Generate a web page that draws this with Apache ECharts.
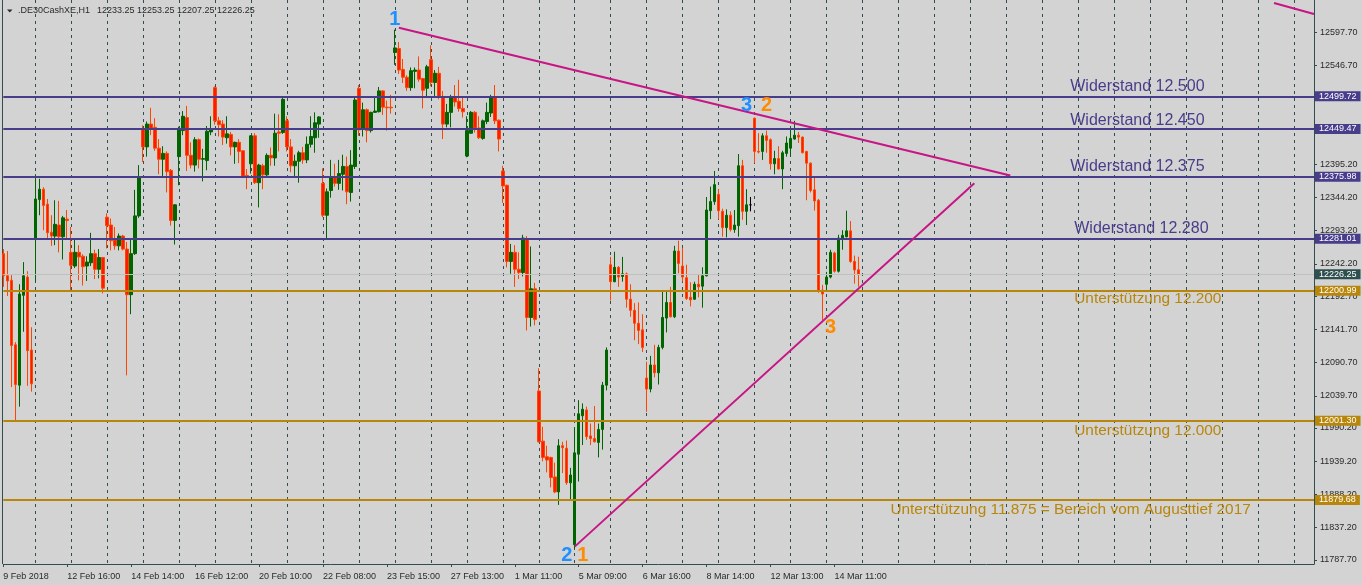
<!DOCTYPE html>
<html><head><meta charset="utf-8">
<script src="https://cdn.jsdelivr.net/npm/echarts@6/dist/echarts.min.js"></script>
<style>html,body{margin:0;padding:0;background:#d3d3d3}#c{width:1362px;height:585px}</style>
</head><body><div id="c"></div>
<script>
// ---- data ----
const tradingDays = ['9 Feb','12 Feb','13 Feb','14 Feb','15 Feb','16 Feb','19 Feb','20 Feb','21 Feb','22 Feb','23 Feb','26 Feb','27 Feb','28 Feb','1 Mar','2 Mar','5 Mar','6 Mar','7 Mar','8 Mar','9 Mar','12 Mar','13 Mar','14 Mar'];
const dayFirstHour = [9,8,8,8,8,8,8,8,8,8,8,8,8,8,8,8,8,8,8,8,8,9,9,9];
const dayBarCount = [8,9,9,9,9,9,9,9,9,9,9,9,9,9,9,9,9,9,9,9,9,9,9,9];
const futureSlots = 114;

const open = [12258,12224,12217,12118,12056,12194,12222,12110,
12280,12341,12357,12334,12291,12285,12302,12284,12311,
12260,12239,12260,12254,12239,12244,12258,12234,12252,
12314,12302,12279,12270,12285,12265,12195,12258,12316,
12450,12422,12457,12452,12420,12403,12412,12386,12309,
12407,12447,12467,12409,12394,12433,12403,12401,12445,
12513,12462,12457,12436,12441,12422,12429,12416,12378,
12396,12439,12367,12393,12379,12409,12405,12445,12444,
12462,12422,12393,12400,12413,12402,12426,12436,12457,
12366,12317,12355,12376,12366,12380,12392,12352,12392,
12512,12449,12479,12447,12475,12476,12508,12483,12483,
12567,12573,12541,12529,12513,12538,12540,12527,12512,
12556,12521,12535,12498,12457,12475,12498,12492,12481,
12408,12443,12475,12451,12435,12461,12474,12498,12463,
12385,12363,12246,12260,12234,12229,12280,12160,12204,
12047,11970,11946,11945,11915,11892,11963,11959,11906,
11811,11950,12009,12018,11978,11974,11968,11988,12056,
12241,12215,12237,12223,12227,12188,12171,12151,12141,
12067,12050,12087,12075,12114,12159,12183,12161,12262,
12239,12221,12191,12188,12211,12208,12224,12324,12338,
12349,12323,12298,12317,12295,12301,12393,12323,12333,
12466,12415,12415,12439,12433,12396,12404,12388,12412,
12420,12434,12440,12437,12415,12397,12356,12340,12202,
12211,12222,12259,12231,12281,12284,12293,12246,12233.25];
const high = [12265,12262,12225,12122,12211,12245,12231,12145,
12380,12373,12360,12342,12317,12340,12339,12316,12325,
12299,12279,12271,12257,12254,12290,12264,12265,12253,
12320,12312,12299,12289,12287,12276,12279,12356,12394,
12455,12461,12482,12466,12434,12423,12415,12388,12334,
12453,12477,12485,12429,12437,12435,12419,12454,12469,
12515,12468,12463,12469,12445,12430,12434,12417,12388,
12440,12443,12396,12396,12412,12421,12473,12472,12497,
12469,12434,12410,12416,12422,12438,12469,12475,12469,
12389,12358,12402,12396,12402,12410,12407,12417,12499,
12517,12490,12481,12476,12499,12514,12509,12493,12502,
12602,12583,12557,12532,12544,12544,12561,12528,12548,
12578,12540,12545,12508,12488,12502,12517,12525,12498,
12469,12477,12477,12469,12464,12490,12502,12517,12464,
12393,12364,12273,12271,12260,12287,12285,12269,12213,
12082,11992,11963,11946,11937,11973,11969,11971,11929,
11991,12033,12028,12023,11997,12024,11997,12061,12114,
12253,12261,12239,12253,12229,12211,12182,12183,12165,
12092,12101,12118,12118,12201,12200,12207,12270,12278,
12267,12241,12214,12215,12225,12237,12345,12361,12385,
12357,12327,12326,12323,12325,12411,12402,12357,12345,
12467,12443,12443,12447,12435,12416,12423,12416,12438,
12449,12462,12445,12438,12416,12398,12375,12342,12210,
12230,12264,12261,12287,12294,12324,12308,12255,12253.25];
const low = [12207,12193,12053,12000,12023,12138,12055,12046,
12216,12317,12294,12281,12270,12271,12260,12249,12281,
12202,12236,12217,12209,12216,12239,12219,12220,12197,
12266,12263,12264,12263,12263,12071,12165,12256,12313,
12399,12407,12440,12416,12380,12377,12352,12301,12272,
12363,12440,12385,12389,12384,12389,12369,12386,12440,
12456,12438,12425,12427,12409,12396,12397,12374,12357,
12381,12365,12329,12357,12377,12393,12393,12415,12442,
12415,12383,12375,12367,12396,12397,12421,12413,12436,
12314,12279,12344,12361,12356,12355,12334,12338,12388,
12439,12438,12429,12444,12474,12475,12471,12447,12473,
12548,12534,12520,12508,12508,12512,12522,12481,12499,
12515,12500,12495,12434,12452,12452,12484,12476,12467,
12406,12442,12444,12434,12433,12457,12468,12457,12415,
12336,12237,12227,12207,12219,12223,12140,12146,12148,
11968,11939,11922,11899,11890,11872,11921,11903,11881,
11803,11908,11964,11972,11964,11968,11945,11957,12048,
12186,12214,12207,12215,12175,12161,12125,12119,12107,
12015,12045,12068,12057,12111,12137,12160,12159,12228,
12215,12187,12177,12187,12191,12175,12223,12311,12333,
12311,12284,12283,12292,12290,12284,12310,12302,12323,
12397,12412,12402,12413,12387,12380,12387,12357,12407,
12407,12433,12428,12412,12340,12352,12324,12198,12156,
12200,12220,12229,12229,12264,12283,12244,12212,12207.25];
const close = [12224,12216,12117,12057,12196,12224,12109,12058,
12342,12357,12332,12290,12285,12303,12284,12313,12309,
12240,12260,12253,12238,12245,12258,12234,12252,12205,
12301,12278,12270,12285,12265,12195,12258,12316,12375,
12422,12457,12450,12420,12403,12412,12384,12309,12333,
12448,12469,12409,12394,12433,12403,12404,12446,12450,
12462,12456,12437,12442,12422,12429,12415,12377,12375,
12439,12367,12394,12379,12409,12405,12443,12443,12495,
12422,12393,12400,12413,12402,12426,12438,12459,12468,
12317,12353,12375,12366,12381,12392,12353,12394,12494,
12448,12479,12447,12475,12477,12508,12483,12482,12482,
12574,12540,12529,12513,12539,12540,12526,12509,12545,
12521,12535,12498,12457,12475,12499,12491,12481,12476,
12447,12475,12451,12436,12462,12475,12499,12462,12434,
12362,12246,12260,12234,12229,12282,12160,12204,12157,
11969,11945,11941,11914,11892,11963,11960,11906,11918,
11952,12012,12019,11977,11974,11969,11988,12056,12110,
12215,12237,12222,12227,12188,12171,12151,12140,12114,
12050,12087,12075,12114,12160,12183,12161,12262,12243,
12222,12189,12187,12211,12207,12224,12325,12338,12364,
12324,12298,12317,12295,12302,12393,12323,12333,12333,
12415,12414,12439,12432,12396,12404,12388,12413,12428,
12435,12440,12437,12413,12397,12355,12339,12200,12196,
12222,12260,12231,12282,12286,12293,12246,12233,12226.25];

const yTicks = [12597.70,12546.70,12496.70,12446.20,12395.20,12344.20,12293.20,12242.20,12192.70,12141.70,12090.70,12039.70,11990.20,11939.20,11888.20,11837.20,11787.70];
const xTickLabels = ['9 Feb 09:00','12 Feb 16:00','14 Feb 14:00','16 Feb 12:00','20 Feb 10:00','22 Feb 08:00','23 Feb 15:00','27 Feb 13:00','1 Mar 11:00','5 Mar 09:00','6 Mar 16:00','8 Mar 14:00','12 Mar 13:00','14 Mar 11:00'];
const firstLabelText = '9 Feb 2018';

const resistanceLevels = [12499.72,12449.47,12375.98,12281.01];
const supportLevels = [12200.99,12001.30,11879.68];
const lastPrice = 12226.25;

const annotationTexts = [
  {text:'Widerstand 12.500', at:[267,12514], kind:'res'},
  {text:'Widerstand 12.450', at:[267,12463], kind:'res'},
  {text:'Widerstand 12.375', at:[267,12391], kind:'res'},
  {text:'Widerstand 12.280', at:[268,12296], kind:'res'},
  {text:'Unterstützung 12.200', at:[268,12188], kind:'sup'},
  {text:'Unterstützung 12.000', at:[268,11986], kind:'sup'},
  {text:'Unterstützung 11.875 = Bereich vom Augusttief 2017', at:[222,11864], kind:'sup'}
];
const waveMarks = [
  {text:'1', at:[98,12617], kind:'blue'},
  {text:'3', at:[186,12486], kind:'blue'},
  {text:'2', at:[191,12485], kind:'orange'},
  {text:'3', at:[207,12144], kind:'orange'},
  {text:'2', at:[141,11795], kind:'blue'},
  {text:'1', at:[145,11795], kind:'orange'}
];
const trendLines = [
  [[99,12605],[252,12378]],
  [[143,11808],[243,12366]],
  [[318,12643],[328,12626]]
];

// ---- build ----
const cats = [];
tradingDays.forEach((d, di) => {
  for (let h = 0; h < dayBarCount[di]; h++) {
    const hr = dayFirstHour[di] + h;
    cats.push(d + ' ' + (hr < 10 ? '0' + hr : hr) + ':00');
  }
});
for (let i = 0; i < futureSlots; i++) cats.push('f' + i);
const labelIdx = new Set(xTickLabels.map(l => cats.indexOf(l)));
const dayStartIdx = new Set();
{ let idx = 8; while (idx < cats.length) { dayStartIdx.add(idx); idx += 9; } }

const candles = open.map((o, i) => [o, close[i], low[i], high[i]]);

const FONT = 'Liberation Sans';
const AX = '#2f4f4f';
const RES = '#483d8b', SUP = '#b8860b', TL = '#c71585';

function levelLine(v, color, bg, width) {
  return {
    yAxis: v,
    lineStyle: {color: color, width: width, type: 'solid'},
    label: {show: true, position: 'end', distance: 1, formatter: () => v.toFixed(2),
      color: '#fff', backgroundColor: bg, padding: [1, 4, 0, 4], fontSize: 9, fontFamily: FONT}
  };
}

const markLineData = [];
resistanceLevels.forEach(v => markLineData.push(levelLine(v, RES, RES, 2)));
supportLevels.forEach(v => markLineData.push(levelLine(v, SUP, SUP, 2)));
markLineData.push(levelLine(lastPrice, '#c0c0c0', '#2f4f4f', 1));
trendLines.forEach(tl => markLineData.push([
  {coord: tl[0], lineStyle: {color: TL, width: 2, type: 'solid'}, label: {show: false}},
  {coord: tl[1]}
]));

const markPointData = [];
annotationTexts.forEach(a => markPointData.push({
  name: a.text, coord: a.at, symbolSize: 0,
  label: {show: true, position: 'right', distance: 0, formatter: '{b}', fontSize: a.kind === 'res' ? 16 : 15.4, fontFamily: FONT,
    color: a.kind === 'res' ? RES : SUP}
}));
waveMarks.forEach(a => markPointData.push({
  name: a.text, coord: a.at, symbolSize: 0,
  label: {show: true, position: 'inside', formatter: '{b}', fontSize: 20, fontWeight: 'bold', fontFamily: FONT,
    color: a.kind === 'blue' ? '#1e90ff' : '#ff8c00'}
}));

const chart = echarts.init(document.getElementById('c'));
chart.setOption({
  animation: false,
  backgroundColor: '#d3d3d3',
  grid: {left: 3.3, right: 48, top: 0, bottom: 21, show: false},
  xAxis: {
    type: 'category', data: cats, boundaryGap: false,
    axisLine: {show: true, lineStyle: {color: AX}},
    axisTick: {show: true, interval: (i) => labelIdx.has(i), length: 3, lineStyle: {color: AX}},
    axisLabel: {interval: (i) => labelIdx.has(i), align: 'left', margin: 8, color: '#2a2a2a', fontSize: 9, fontFamily: FONT,
      formatter: (v, i) => i === 0 ? firstLabelText : v},
    splitLine: {show: true, interval: (i) => dayStartIdx.has(i), lineStyle: {color: AX, type: [3, 4], width: 1}}
  },
  yAxis: {
    type: 'value', position: 'right', min: 11781.3, max: 12647.6,
    axisLine: {show: true, lineStyle: {color: AX}},
    axisTick: {show: true, customValues: yTicks, length: 3, lineStyle: {color: AX}},
    axisLabel: {customValues: yTicks, margin: 6, color: '#2a2a2a', fontSize: 9, fontFamily: FONT, formatter: v => v.toFixed(2)},
    splitLine: {show: false}
  },
  graphic: [
    {type: 'line', shape: {x1: 2.5, y1: 0, x2: 2.5, y2: 564}, style: {stroke: AX, lineWidth: 1}},
    {type: 'polygon', shape: {points: [[7, 9.5], [12.5, 9.5], [9.75, 12.5]]}, style: {fill: '#2a2a2a'}},
    {type: 'text', left: 18, top: 6, style: {text: '.DE30CashXE,H1', font: '9px "Liberation Sans"', fill: '#2a2a2a'}},
    {type: 'text', left: 97, top: 6, style: {text: '12233.25 12253.25 12207.25 12226.25', font: '9px "Liberation Sans"', fill: '#2a2a2a'}}
  ],
  series: [{
    type: 'candlestick', data: candles, barWidth: 3,
    itemStyle: {color: '#006400', color0: '#ff1a00', borderColor: '#006400', borderColor0: '#ff4500', borderColorDoji: '#000', borderWidth: 1},
    markLine: {symbol: 'none', silent: true, animation: false, data: markLineData},
    markPoint: {silent: true, animation: false, data: markPointData}
  }]
});
</script></body></html>
